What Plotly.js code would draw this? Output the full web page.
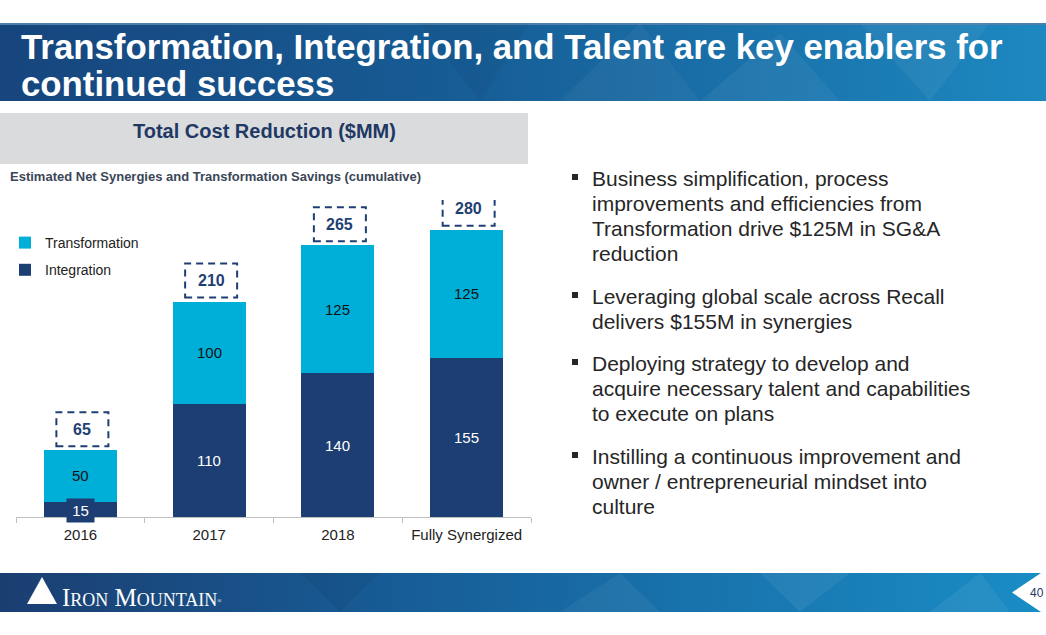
<!DOCTYPE html>
<html>
<head>
<meta charset="utf-8">
<script src="https://cdn.plot.ly/plotly-3.0.1.min.js"></script>
<style>html,body{margin:0;padding:0;background:#fff;}#chart{width:1046px;height:635px;}</style>
</head>
<body>
<div id="chart"></div>
<script>
// ---- data ----
const categories = ['2016', '2017', '2018', 'Fully Synergized'];
const integration = [15, 110, 140, 155];
const transformation = [50, 100, 125, 125];
const totals = [65, 210, 265, 280];
const seriesNames = ['Integration', 'Transformation'];
const titleLines = ['Transformation, Integration, and Talent are key enablers for', 'continued success'];
const panelTitle = 'Total Cost Reduction ($MM)';
const chartSubtitle = 'Estimated Net Synergies and Transformation Savings (cumulative)';
const bullets = [
  ['Business simplification, process', 'improvements and efficiencies from', 'Transformation drive $125M in SG&A', 'reduction'],
  ['Leveraging global scale across Recall', 'delivers $155M in synergies'],
  ['Deploying strategy to develop and', 'acquire necessary talent and capabilities', 'to execute on plans'],
  ['Instilling a continuous improvement and', 'owner / entrepreneurial mindset into', 'culture']
];
const pageNumber = '40';
const logoText = 'Iron Mountain';

// ---- styling / layout helpers ----
const FONT = 'Liberation Sans, Arial, Helvetica, sans-serif';
const NAVY = '#1c3e72';
const CYAN = '#00afd8';
const W = 1046, H = 635;
const PL = 16, PR = 531, PT = 200, PB = 517;
const fx = p => (p - PL) / (PR - PL);
const fy = p => (PB - p) / (PB - PT);

function pann(text, xpx, ypx, font, extra) {
  return Object.assign({
    xref: 'paper', yref: 'paper', x: fx(xpx), y: fy(ypx),
    xanchor: 'left', yanchor: 'middle', showarrow: false, text: text,
    font: font
  }, extra || {});
}

// banners as svg images
const topSvg = `<svg xmlns="http://www.w3.org/2000/svg" width="1046" height="78" viewBox="0 0 1046 78">
<defs><linearGradient id="g" x1="0" y1="0" x2="1" y2="0">
<stop offset="0" stop-color="#17457d"/><stop offset="0.45" stop-color="#175d96"/><stop offset="1" stop-color="#1d88c0"/></linearGradient></defs>
<rect width="1046" height="78" fill="url(#g)"/>
<rect width="1046" height="2" fill="#4a7fae"/>
<polygon points="560,78 640,0 700,78" fill="#ffffff" fill-opacity="0.04"/>
<polygon points="700,78 780,10 840,78" fill="#ffffff" fill-opacity="0.05"/>
<polygon points="860,0 930,78 990,0" fill="#ffffff" fill-opacity="0.05"/>
<polygon points="420,0 480,78 530,0" fill="#000000" fill-opacity="0.04"/>
</svg>`;
const botSvg = `<svg xmlns="http://www.w3.org/2000/svg" width="1046" height="39" viewBox="0 0 1046 39">
<defs><linearGradient id="h" x1="0" y1="0" x2="1" y2="0">
<stop offset="0" stop-color="#1b3e71"/><stop offset="0.4" stop-color="#175e98"/><stop offset="1" stop-color="#1a8dc5"/></linearGradient></defs>
<rect width="1046" height="39" fill="url(#h)"/>
<polygon points="300,0 340,39 380,0" fill="#000000" fill-opacity="0.05"/>
<polygon points="560,39 620,0 660,39" fill="#ffffff" fill-opacity="0.05"/>
<polygon points="760,0 800,39 850,0" fill="#ffffff" fill-opacity="0.06"/>
<polygon points="930,39 980,0 1010,39" fill="#ffffff" fill-opacity="0.06"/>
<polygon points="1012,19.5 1041,0 1046,0 1046,39 1041,39" fill="#ffffff"/>
<polygon points="42,4 27,31 57,31" fill="#ffffff"/>
</svg>`;
const svgUri = s => 'data:image/svg+xml;charset=utf-8,' + encodeURIComponent(s);

// ---- traces ----
const traces = [
  {type: 'bar', name: seriesNames[0], x: categories, y: integration,
   marker: {color: NAVY}, legendgroup: 'a', legendrank: 2, hoverinfo: 'x+y+name'},
  {type: 'bar', name: seriesNames[1], x: categories, y: transformation,
   marker: {color: CYAN}, legendgroup: 'b', legendrank: 1, hoverinfo: 'x+y+name'}
];

// ---- annotations ----
const annotations = [];
titleLines.forEach((t, i) => annotations.push(pann('<b>' + t + '</b>', 19, 47 + i * 36, {family: FONT, size: 34.8, color: '#ffffff'})));
annotations.push(pann('<b>' + panelTitle + '</b>', 264, 131, {family: FONT, size: 20, color: '#1f3864'}, {xanchor: 'center'}));
annotations.push(pann('<b>' + chartSubtitle + '</b>', 8, 176, {family: FONT, size: 13, color: '#3b4657'}));

const bulletStarts = [178, 296, 363, 456];
const bulletShapes = [];
bullets.forEach((lines, bi) => {
  lines.forEach((ln, li) => {
    annotations.push(pann(ln, 590, bulletStarts[bi] + li * 25, {family: FONT, size: 21, color: '#262626'}));
  });
  const yc = bulletStarts[bi];
  bulletShapes.push({type: 'rect', xref: 'paper', yref: 'paper', x0: fx(572), x1: fx(578), y0: fy(yc + 2), y1: fy(yc - 4),
    fillcolor: '#262626', line: {width: 0}});
});

// segment labels (from data)
categories.forEach((c, i) => {
  const small = integration[i] < 20;
  const a = {x: i, y: integration[i] / 2, xref: 'x', yref: 'y', showarrow: false,
    text: String(integration[i]), font: {family: FONT, size: 15, color: '#ffffff'}};
  if (small) { a.bgcolor = NAVY; a.width = 25; a.height = 21; a.yshift = -1; }
  annotations.push(a);
  annotations.push({x: i, y: integration[i] + transformation[i] / 2, xref: 'x', yref: 'y', showarrow: false,
    text: String(transformation[i]), font: {family: FONT, size: 15, color: '#111111'}});
  annotations.push({x: i, y: totals[i], xref: 'x', yref: 'y', showarrow: false, yanchor: 'middle',
    yshift: 21, xshift: 2, text: '<b>' + totals[i] + '</b>', font: {family: FONT, size: 16, color: '#1f3f73'}});
});

// footer
annotations.push(pann(logoText + '<span style="font-size:8px"><sup>®</sup></span>', 60, 597, {family: 'Liberation Serif, Times New Roman, serif', size: 25, color: '#ffffff', variant: 'small-caps'}));
annotations.push(pann(pageNumber, 1037, 593, {family: FONT, size: 12, color: '#1f3864'}, {xanchor: 'center'}));

// dashed total boxes (anchored to data)
const boxShapes = categories.map((c, i) => ({
  type: 'rect', xref: 'x', yref: 'y',
  xsizemode: 'pixel', xanchor: i, x0: -24, x1: 28,
  ysizemode: 'pixel', yanchor: totals[i], y0: 4, y1: 38,
  line: {color: '#1f3f73', width: 2, dash: '7px,5px'}, fillcolor: 'rgba(0,0,0,0)'
}));

const shapes = [
  {type: 'rect', xref: 'paper', yref: 'paper', x0: fx(0), x1: fx(528), y0: fy(113), y1: fy(164),
   fillcolor: '#dadbdd', line: {width: 0}, layer: 'below'}
].concat(bulletShapes, boxShapes);

const layout = {
  width: W, height: H,
  margin: {l: PL, r: W - PR, t: PT, b: H - PB, pad: 0, autoexpand: false},
  paper_bgcolor: '#ffffff', plot_bgcolor: 'rgba(0,0,0,0)',
  barmode: 'stack', bargap: 0.432,
  font: {family: FONT, color: '#222222'},
  showlegend: true,
  legend: {xref: 'container', yref: 'container', x: 5 / W, y: 1 - 227 / H, xanchor: 'left', yanchor: 'top', traceorder: 'grouped',
    tracegroupgap: 6, bgcolor: 'rgba(0,0,0,0)', font: {family: FONT, size: 14, color: '#222222'}},
  xaxis: {type: 'category', range: [-0.5, categories.length - 0.5], autorange: false, automargin: false,
    showline: true, linecolor: '#bfbfbf', linewidth: 1,
    ticks: 'outside', tickson: 'boundaries', ticklen: 5, tickcolor: '#bfbfbf', tickangle: 0, ticklabelstandoff: 4,
    tickfont: {family: FONT, size: 15, color: '#222222'}, showgrid: false, zeroline: false,
    fixedrange: true},
  yaxis: {range: [0, 309], autorange: false, visible: false, automargin: false, showgrid: false, zeroline: false, fixedrange: true},
  images: [
    {source: svgUri(topSvg), xref: 'paper', yref: 'paper', x: fx(0), y: fy(23), sizex: W / (PR - PL), sizey: 78 / (PB - PT),
     xanchor: 'left', yanchor: 'top', sizing: 'stretch', layer: 'below'},
    {source: svgUri(botSvg), xref: 'paper', yref: 'paper', x: fx(0), y: fy(573), sizex: W / (PR - PL), sizey: 39 / (PB - PT),
     xanchor: 'left', yanchor: 'top', sizing: 'stretch', layer: 'below'}
  ],
  annotations: annotations,
  shapes: shapes
};

Plotly.newPlot('chart', traces, layout, {displayModeBar: false, staticPlot: true});
</script>
</body>
</html>
